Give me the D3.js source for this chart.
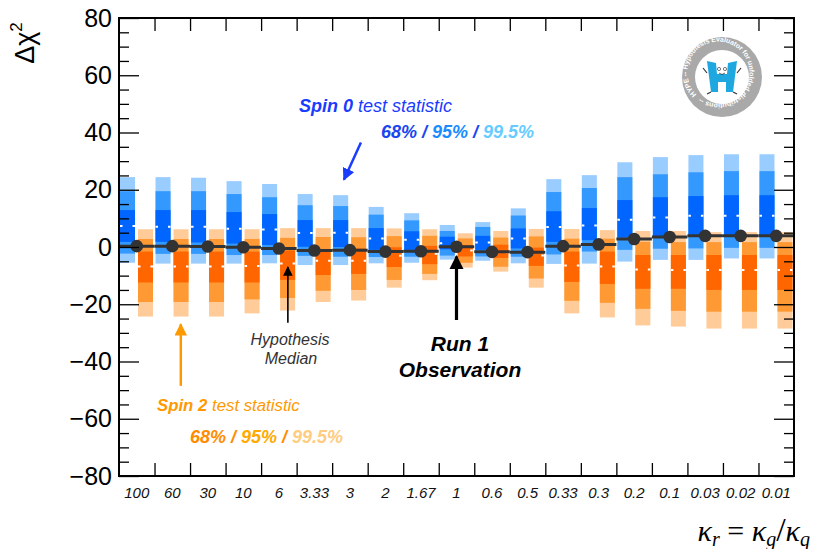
<!DOCTYPE html>
<html>
<head>
<meta charset="utf-8">
<script src="https://cdn.jsdelivr.net/npm/d3@7"></script>
<style>
  body { margin: 0; background: #fff; }
  svg { display: block; }
  text { font-family: "Liberation Sans", Arial, Helvetica, sans-serif; }
</style>
</head>
<body>
<div id="chart"></div>
<script>
// categories along x (kappa_r values)
var kappaLabels = ["100", "60", "30", "10", "6", "3.33", "3", "2", "1.67", "1",
                   "0.6", "0.5", "0.33", "0.3", "0.2", "0.1", "0.03", "0.02", "0.01"];

// run 1 observed delta chi2 (black dots)
var observed = [0.3, 0.3, 0.2, -0.1, -0.5, -1.2, -1.1, -1.6, -1.5, 0.1,
                -1.7, -1.8, 0.3, 0.9, 2.8, 3.5, 3.9, 3.9, 3.9];

// spin 0 test statistic bands [lo, hi]
var spin0Band995 = [[-5.5,24.4],[-5.8,24.4],[-5.8,24.2],[-5.8,23.0],[-5.7,22.0],[-6.3,18.5],[-6.3,18.1],
                    [-5.7,14.0],[-5.5,11.8],[-4.4,7.7],[-4.8,8.7],[-5.7,13.5],[-5.9,23.7],[-5.8,25.1],
                    [-5.1,29.6],[-4.5,31.4],[-4.5,32.1],[-4.0,32.4],[-4.0,32.4]];
var spin0Band95  = [[-2.3,19.5],[-2.4,19.5],[-2.4,19.5],[-2.8,18.5],[-2.8,17.4],[-3.1,14.6],[-3.4,14.3],
                    [-3.5,11.3],[-3.4,9.3],[-3.0,5.6],[-3.3,7.0],[-3.4,11.0],[-2.6,19.2],[-1.6,20.6],
                    [-1.0,24.4],[-0.6,25.4],[-0.5,26.1],[-0.3,26.5],[-0.3,26.5]];
var spin0Band68  = [[1.8,12.9],[1.8,12.9],[1.6,12.9],[1.2,12.2],[0.7,11.5],[0.1,9.4],[0.0,9.4],
                    [-1.0,6.6],[-1.0,5.5],[-0.8,3.6],[-1.0,3.9],[-0.5,6.5],[1.8,12.5],[2.4,13.6],
                    [3.3,16.4],[3.6,17.4],[4.2,17.8],[4.2,18.1],[4.2,18.1]];
var spin0Median  = [7.3, 7.1, 7.1, 6.4, 6.1, 4.9, 5.0, 3.0, 2.5, 1.3, 1.6, 3.0, 7.0, 7.5, 9.5, 10.3, 10.9, 10.9, 10.9];

// spin 2 test statistic bands [lo, hi]
var spin2Band995 = [[-24.3,6.2],[-24.3,6.2],[-24.3,6.2],[-23.2,6.2],[-22.2,6.6],[-19.2,6.6],[-18.7,6.6],
                    [-14.2,6.5],[-11.6,6.2],[-7.2,4.8],[-8.6,5.6],[-14.2,6.3],[-23.2,6.3],[-24.6,5.9],
                    [-27.4,5.6],[-27.8,5.6],[-28.5,5.2],[-28.5,5.2],[-28.5,5.2]];
var spin2Band95  = [[-19.2,2.8],[-19.2,2.8],[-19.2,2.8],[-18.3,2.8],[-17.8,3.2],[-15.3,3.5],[-15.0,3.4],
                    [-11.5,3.8],[-9.4,3.9],[-5.5,3.0],[-6.9,3.3],[-11.0,3.7],[-18.8,2.9],[-19.5,2.9],
                    [-21.6,1.8],[-22.3,1.7],[-22.6,1.7],[-22.6,1.7],[-22.6,1.7]];
var spin2Band68  = [[-12.4,-1.6],[-12.4,-1.6],[-12.4,-1.6],[-12.4,-1.6],[-11.5,-1.2],[-9.8,-0.9],[-9.4,-0.5],
                    [-7.0,-0.1],[-6.0,0.4],[-3.3,0.7],[-3.8,0.8],[-6.6,-0.2],[-12.2,-1.6],[-12.9,-1.6],
                    [-14.6,-2.8],[-14.6,-2.8],[-15.0,-2.8],[-15.0,-2.8],[-15.0,-2.8]];
var spin2Median  = [-6.8, -6.8, -6.8, -6.6, -5.8, -4.8, -4.8, -3.1, -2.4, -1.2, -1.8, -3.0, -6.5, -6.8, -7.9, -8.0, -8.0, -8.0, -8.0];

var yMajor = [-80, -60, -40, -20, 0, 20, 40, 60, 80];

// frame of the plot (don't call these top/left - window.top is read only)
var plotL = 119, plotR = 794, plotT = 18, plotB = 476;
var barW = 15;

var svg = d3.select("#chart").append("svg").attr("width", 813).attr("height", 549);

var x = d3.scaleBand().domain(kappaLabels).range([plotL, plotR]);
var xEdge = d3.scaleLinear().domain([0, kappaLabels.length]).range([plotL, plotR]);
var y = d3.scaleLinear().domain([-80, 80]).range([plotB, plotT]);

// bars, light first so darker sit on top
function drawBand(data, offset, color) {
    svg.append("g").selectAll("rect").data(data).enter().append("rect")
        .attr("x", (d, i) => x(kappaLabels[i]) + offset)
        .attr("width", barW)
        .attr("y", d => y(d[1]))
        .attr("height", d => y(d[0]) - y(d[1]))
        .attr("fill", color);
}
drawBand(spin0Band995, 1, "#99ccff");
drawBand(spin0Band95, 1, "#3399ff");
drawBand(spin0Band68, 1, "#0066ff");
drawBand(spin2Band995, 19, "#ffcc99");
drawBand(spin2Band95, 19, "#ff9933");
drawBand(spin2Band68, 19, "#ff6600");

// white dashed medians
function drawMedian(data, offset) {
    svg.append("g").selectAll("line").data(data).enter().append("line")
        .attr("x1", (d, i) => x(kappaLabels[i]) + offset)
        .attr("x2", (d, i) => x(kappaLabels[i]) + offset + barW)
        .attr("y1", d => y(d)).attr("y2", d => y(d))
        .attr("stroke", "#fff").attr("stroke-width", 2)
        .attr("stroke-dasharray", "2.5,10");
}
drawMedian(spin0Median, 1);
drawMedian(spin2Median, 19);

// observed: step line + dots
svg.append("g").selectAll("line").data(observed).enter().append("line")
    .attr("x1", (d, i) => x(kappaLabels[i]))
    .attr("x2", (d, i) => x(kappaLabels[i]) + x.bandwidth())
    .attr("y1", d => y(d)).attr("y2", d => y(d))
    .attr("stroke", "#333").attr("stroke-width", 3);
svg.append("g").selectAll("circle").data(observed).enter().append("circle")
    .attr("cx", (d, i) => x(kappaLabels[i]) + x.bandwidth() / 2)
    .attr("cy", d => y(d))
    .attr("r", 6.3)
    .attr("fill", "#333");

// axes - ticks point inward
var minorTicks = d3.range(-80, 81, 5).filter(v => v % 20 !== 0);
svg.append("g").attr("transform", `translate(${plotL},0)`)
    .call(d3.axisLeft(y).tickValues(minorTicks).tickSize(-10).tickSizeOuter(0).tickFormat(""));
svg.append("g").attr("class", "yaxis").attr("transform", `translate(${plotL},0)`)
    .call(d3.axisLeft(y).tickValues(yMajor).tickSize(-20).tickSizeOuter(0).tickPadding(7));
svg.append("g").attr("transform", `translate(${plotR},0)`)
    .call(d3.axisRight(y).tickValues(minorTicks).tickSize(-10).tickSizeOuter(0).tickFormat(""));
svg.append("g").attr("transform", `translate(${plotR},0)`)
    .call(d3.axisRight(y).tickValues(yMajor).tickSize(-20).tickSizeOuter(0).tickFormat(""));
svg.append("g").attr("transform", `translate(0,${plotB})`)
    .call(d3.axisBottom(xEdge).tickValues(d3.range(1, kappaLabels.length)).tickSize(-13).tickSizeOuter(0).tickFormat(""));
svg.append("g").attr("transform", `translate(0,${plotT})`)
    .call(d3.axisTop(xEdge).tickValues(d3.range(1, kappaLabels.length)).tickSize(-13).tickSizeOuter(0).tickFormat(""));
svg.append("g").attr("class", "xaxis").attr("transform", `translate(0,${plotB})`)
    .call(d3.axisBottom(x).tickSize(0).tickPadding(11));

svg.selectAll(".domain").remove();
svg.selectAll(".tick line").attr("stroke", "#000").attr("stroke-width", 1.3);
svg.selectAll(".yaxis text").attr("font-size", 25).attr("fill", "#000")
    .style("font-family", "'Liberation Sans', Arial, sans-serif");
svg.selectAll(".xaxis text").attr("font-size", 15).attr("font-style", "italic").attr("fill", "#111")
    .style("font-family", "'Liberation Sans', Arial, sans-serif");

// frame
svg.append("rect").attr("x", plotL).attr("y", plotT).attr("width", plotR - plotL).attr("height", plotB - plotT)
    .attr("fill", "none").attr("stroke", "#000").attr("stroke-width", 2);

// y title
var yt = svg.append("text").attr("transform", "translate(34,43) rotate(-90)")
    .attr("text-anchor", "middle").attr("font-size", 27);
yt.append("tspan").text("Δχ");
yt.append("tspan").attr("font-size", 17).attr("dy", -12).text("2");

// x title
var xt = svg.append("text").attr("x", 810).attr("y", 541).attr("text-anchor", "end")
    .attr("font-size", 30).style("font-family", "'Liberation Serif', 'DejaVu Serif', serif");
xt.append("tspan").attr("font-style", "italic").text("κ");
xt.append("tspan").attr("font-style", "italic").attr("font-size", 20).attr("dy", 5).text("r");
xt.append("tspan").attr("dy", -5).text(" = ");
xt.append("tspan").attr("font-style", "italic").text("κ");
xt.append("tspan").attr("font-style", "italic").attr("font-size", 20).attr("dy", 5).text("g");
xt.append("tspan").attr("dy", -5).attr("font-size", 34).text("/");
xt.append("tspan").attr("font-style", "italic").text("κ");
xt.append("tspan").attr("font-style", "italic").attr("font-size", 20).attr("dy", 5).text("q");

// arrow heads
var defs = svg.append("defs");
function marker(id, color, size) {
    defs.append("marker").attr("id", id).attr("viewBox", "0 0 10 10").attr("refX", 9).attr("refY", 5)
        .attr("markerWidth", size).attr("markerHeight", size).attr("markerUnits", "strokeWidth")
        .attr("orient", "auto")
        .append("path").attr("d", "M0,0 L10,5 L0,10 Z").attr("fill", color);
}
marker("ahBlue", "#1a3cff", 5);
marker("ahOrange", "#ff9900", 5);
marker("ahBlack", "#000", 4.5);
marker("ahBlackThin", "#000", 6);

function arrow(x1, y1, x2, y2, color, w, m) {
    svg.append("line").attr("x1", x1).attr("y1", y1).attr("x2", x2).attr("y2", y2)
        .attr("stroke", color).attr("stroke-width", w).attr("marker-end", `url(#${m})`);
}
var cx = k => x(k) + x.bandwidth() / 2;
arrow(cx("3") + 11, y(36.5), cx("3") - 6, y(23.5), "#1a3cff", 2.5, "ahBlue");
arrow(cx("60") + 8.5, y(-48.5), cx("60") + 8.5, y(-27), "#ff9900", 2.5, "ahOrange");
arrow(cx("6") + 9, y(-26.5), cx("6") + 9, y(-7), "#000", 1.6, "ahBlackThin");
arrow(cx("1"), y(-25.5), cx("1"), y(-3.3), "#000", 3.2, "ahBlack");

// annotations
var t0 = svg.append("text").attr("x", 299).attr("y", 112).attr("font-size", 18).attr("fill", "#1a3cff")
    .attr("font-style", "italic");
t0.append("tspan").attr("font-weight", "bold").text("Spin 0");
t0.append("tspan").text(" test statistic");

var p0 = svg.append("text").attr("x", 381).attr("y", 138).attr("font-size", 18)
    .attr("font-style", "italic").attr("font-weight", "bold");
p0.append("tspan").attr("fill", "#1a46f0").text("68% / ");
p0.append("tspan").attr("fill", "#1a8cff").text("95%");
p0.append("tspan").attr("fill", "#1a46f0").text(" / ");
p0.append("tspan").attr("fill", "#66ccff").text("99.5%");

var t2 = svg.append("text").attr("x", 157).attr("y", 411).attr("font-size", 16.8).attr("fill", "#ff9900")
    .attr("font-style", "italic");
t2.append("tspan").attr("font-weight", "bold").text("Spin 2");
t2.append("tspan").text(" test statistic");

var p2 = svg.append("text").attr("x", 190).attr("y", 443).attr("font-size", 18)
    .attr("font-style", "italic").attr("font-weight", "bold");
p2.append("tspan").attr("fill", "#ff8c00").text("68% / ");
p2.append("tspan").attr("fill", "#ffaa00").text("95%");
p2.append("tspan").attr("fill", "#ff8c00").text(" / ");
p2.append("tspan").attr("fill", "#ffcc80").text("99.5%");

svg.append("text").attr("x", 290).attr("y", 345).attr("text-anchor", "middle").attr("font-size", 16)
    .attr("font-style", "italic").attr("fill", "#333").text("Hypothesis");
svg.append("text").attr("x", 291).attr("y", 364).attr("text-anchor", "middle").attr("font-size", 16)
    .attr("font-style", "italic").attr("fill", "#333").text("Median");

svg.append("text").attr("x", 460).attr("y", 351).attr("text-anchor", "middle").attr("font-size", 21)
    .attr("font-style", "italic").attr("font-weight", "bold").attr("fill", "#000").text("Run 1");
svg.append("text").attr("x", 460).attr("y", 377).attr("text-anchor", "middle").attr("font-size", 21)
    .attr("font-style", "italic").attr("font-weight", "bold").attr("fill", "#000").text("Observation");

// HYPE logo
var logo = svg.append("g").attr("transform", "translate(722,77)");
logo.append("circle").attr("r", 40).attr("fill", "#a9a9a9");
logo.append("circle").attr("r", 27).attr("fill", "#fff");
var rText = 31;
defs.append("path").attr("id", "logoRing")
    .attr("d", `M ${-rText * Math.cos(0.6)},${rText * Math.sin(0.6)} A ${rText},${rText} 0 1,1 ${-rText * Math.cos(0.6) + 0.01},${rText * Math.sin(0.6) + 0.01}`);
logo.append("text").attr("font-size", 7).attr("fill", "#fff").attr("font-weight", "bold")
    .append("textPath").attr("href", "#logoRing")
    .attr("textLength", 2 * Math.PI * rText * 0.97)
    .text("HYPE -- Hypothesis Evaluator for unfolded distributions --");
logo.append("path")
    .attr("d", "M-15,-16 L-6,-14 L-5,-3 L5,-3 L6,-14 L15,-16 L11,15 L4,15 L4,5 L-4,5 L-4,15 L-11,15 Z")
    .attr("fill", "#1fa8df");
logo.append("circle").attr("cx", -3).attr("cy", -8).attr("r", 1.6).attr("fill", "#fff").attr("stroke", "#222").attr("stroke-width", 0.6);
logo.append("circle").attr("cx", 3).attr("cy", -8).attr("r", 1.6).attr("fill", "#fff").attr("stroke", "#222").attr("stroke-width", 0.6);
logo.append("path").attr("d", "M-3,-4 Q0,-1 3,-4").attr("fill", "none").attr("stroke", "#222").attr("stroke-width", 0.7);
logo.append("path").attr("d", "M-11,15 L-15,17 M11,15 L15,17 M-15,-4 L-19,-9 M15,-4 L19,-9")
    .attr("stroke", "#333").attr("stroke-width", 1.2).attr("fill", "none");
</script>
</body>
</html>
